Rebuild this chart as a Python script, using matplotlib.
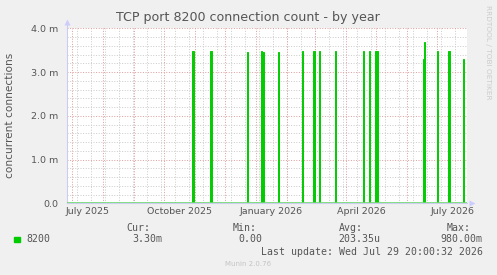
import datetime as dt
import matplotlib
matplotlib.use("Agg")
import matplotlib.pyplot as plt

# --- data (munin "by year" graph, one-day averages, values in milli-connections)
title = "TCP port 8200 connection count - by year"
ylabel = "concurrent connections"
spike_dates = [
    "2025-10-29", "2025-10-30",
    "2025-11-16", "2025-11-17",
    "2025-12-23",
    "2026-01-06", "2026-01-07", "2026-01-08",
    "2026-01-23",
    "2026-02-16",
    "2026-02-27", "2026-02-28",
    "2026-03-05",
    "2026-03-21",
    "2026-04-18",
    "2026-04-24",
    "2026-04-30", "2026-05-01", "2026-05-02",
    "2026-06-17", "2026-06-18",
    "2026-07-01",
    "2026-07-12", "2026-07-13",
    "2026-07-27",
]
spike_vals = [
    3.48, 3.48,
    3.48, 3.48,
    3.46,
    3.48, 3.46, 3.46,
    3.46,
    3.48,
    3.48, 3.48,
    3.48,
    3.48,
    3.48,
    3.48,
    3.48, 3.48, 3.48,
    3.29, 3.68,
    3.48,
    3.48, 3.48,
    3.30,
]
ytick_vals = [0, 1, 2, 3, 4]
ytick_labels = ["0.0", "1.0 m", "2.0 m", "3.0 m", "4.0 m"]
xlabel_months = ["2025-07-01", "2025-10-01", "2026-01-01", "2026-04-01", "2026-07-01"]
xlabel_texts = ["July 2025", "October 2025", "January 2026", "April 2026", "July 2026"]
series_name = "8200"
stats_heads = ["Cur:", "Min:", "Avg:", "Max:"]
stats_vals = ["3.30m", "0.00", "203.35u", "980.00m"]
last_update = "Last update: Wed Jul 29 20:00:32 2026"
footer = "Munin 2.0.76"
watermark = "RRDTOOL / TOBI OETIKER"

W, H = 497, 275
start = dt.datetime(2025, 6, 25, 16)
end = start + dt.timedelta(days=400)

GREEN = "#00cc00"
TXT = "#555555"
MAJOR = "#e0a0a0"
MINOR = "#cdcdcd"

fig = plt.figure(figsize=(W / 100, H / 100), dpi=100, facecolor="#f0f0f0")
ax = fig.add_axes([67 / W, 1 - 203.3 / H, 400 / W, 175 / H], facecolor="white")


def fx(x):
    return x / W


def fy(y):
    return 1 - y / H


def day(s):
    return dt.datetime.strptime(s, "%Y-%m-%d")


ax.set_xlim(start, end)
ax.set_ylim(0, 4)

# grid: minor every 0.2 / 14 days, major every 1.0 / month
dots = (0, (1, 1.6))
for i in range(21):
    v = i * 0.2
    if i % 5:
        ax.axhline(v, color=MINOR, lw=0.72, ls=dots, zorder=1)
d = start + dt.timedelta(days=10)
while d < end:
    ax.axvline(d, color=MINOR, lw=0.72, ls=dots, zorder=1)
    d += dt.timedelta(days=14)
for v in ytick_vals[1:]:
    ax.axhline(v, color=MAJOR, lw=0.72, ls=dots, zorder=1)
y, m = 2025, 7
while dt.datetime(y, m, 1) < end:
    ax.axvline(dt.datetime(y, m, 1), color=MAJOR, lw=0.72, ls=dots, zorder=1)
    m += 1
    if m > 12:
        y, m = y + 1, 1

# data
x = [day(s) for s in spike_dates]
ax.bar(x, spike_vals, width=1.0, align="edge", color="#7fe07f",
       edgecolor=GREEN, linewidth=0.7, zorder=3)
ax.axhline(0, color="#6fd86f", lw=1.2, zorder=4)

# axes decoration
for s in ["top", "right"]:
    ax.spines[s].set_visible(False)
ax.spines["left"].set_color("#ccccee")
ax.spines["bottom"].set_color("#ccccee")
ax.spines["left"].set_linewidth(0.8)
ax.plot([0, 0], [1, 1.03], color="#ccccee", lw=0.8, transform=ax.transAxes, clip_on=False)
ax.plot(0, 1.035, marker="^", ms=4, color="#ccccff", mec="none",
        transform=ax.transAxes, clip_on=False)
ax.plot(1.012, 0, marker=">", ms=4, color="#ccccff", mec="none",
        transform=ax.transAxes, clip_on=False)

ax.set_yticks(ytick_vals)
ax.set_yticklabels(ytick_labels)
ax.set_xticks([day(s) + dt.timedelta(days=15) for s in xlabel_months])
ax.set_xticklabels(xlabel_texts)
ax.tick_params(axis="both", length=0, labelsize=6.8, colors=TXT, pad=3)
ax.tick_params(axis="y", pad=6)

fig.text(fx(248), fy(18), title, ha="center", va="center", fontsize=9.1, color=TXT)
fig.text(fx(10), fy(115), ylabel, rotation=90, ha="center", va="center",
         fontsize=7.6, color=TXT)
fig.text(fx(488), fy(52), watermark, rotation=-90, ha="center", va="center",
         fontsize=5.3, color="#cccccc")

# legend
mono = dict(family="DejaVu Sans Mono", fontsize=7.1, color=TXT)
fig.patches.append(plt.Rectangle((fx(14), fy(242)), 6 / W, 5.5 / H, color=GREEN,
                                 transform=fig.transFigure, figure=fig))
fig.text(fx(26), fy(239.5), series_name, ha="left", va="center", **mono)
head_right = [150.7, 257, 363.3, 470.7]
val_right = [162.7, 262.7, 380, 482.7]
for h, v, hr, vr in zip(stats_heads, stats_vals, head_right, val_right):
    fig.text(fx(hr), fy(228), h, ha="right", va="center", **mono)
    fig.text(fx(vr), fy(239.5), v, ha="right", va="center", **mono)
fig.text(fx(482.7), fy(251.7), last_update, ha="right", va="center", **mono)
fig.text(fx(248), fy(264.5), footer, ha="center", va="center", fontsize=5,
         color="#c4c4c4")

fig.savefig("out.png", dpi=100, facecolor=fig.get_facecolor())
